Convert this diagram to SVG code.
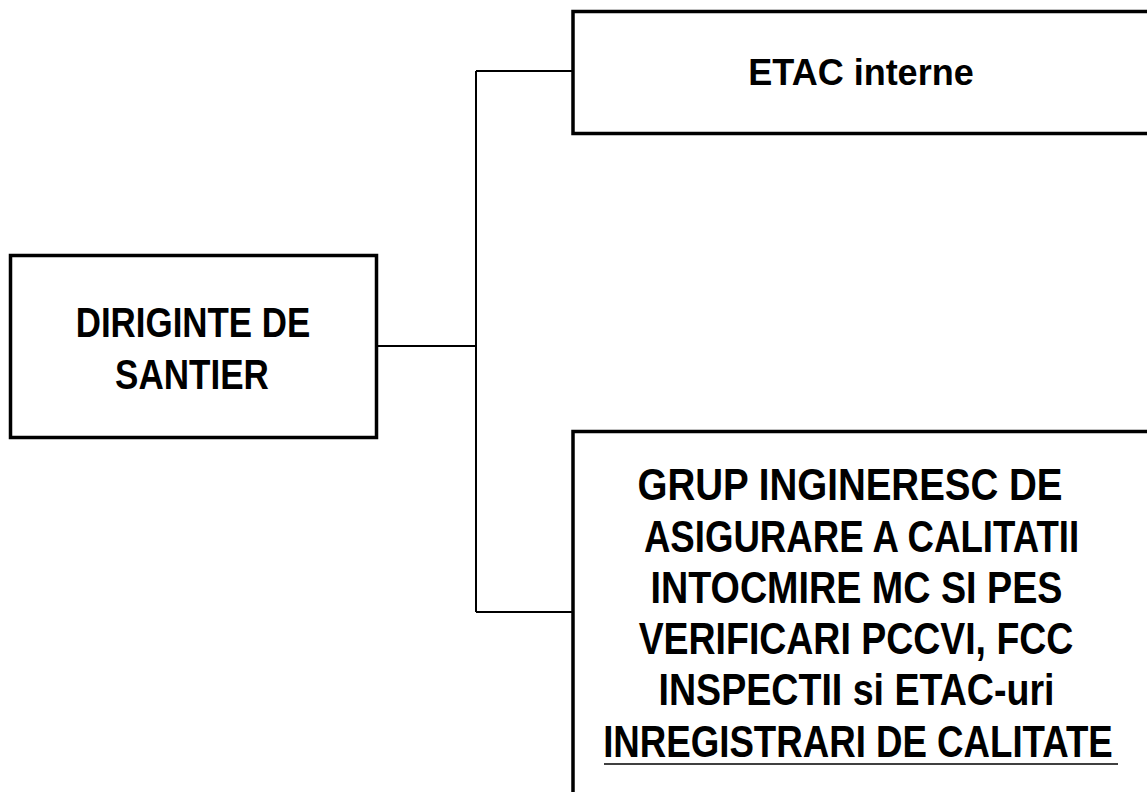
<svg xmlns="http://www.w3.org/2000/svg" width="1147" height="792" viewBox="0 0 1147 792">
<style>
  .box { fill: #ffffff; stroke: #000000; stroke-width: 3.5; }
  .edge { fill: none; stroke: #000000; stroke-width: 3.5; }
  .conn { fill: none; stroke: #000000; stroke-width: 2; }
  .lbl { font-family: "Liberation Sans", Arial, sans-serif; font-weight: bold; fill: #000000; text-anchor: middle; }
</style>
<rect width="1147" height="792" fill="#ffffff"/>
<g id="connectors">
  <path class="conn" d="M377 346 H476"/>
  <path class="conn" d="M476 71 V612"/>
  <path class="conn" d="M476 71 H573"/>
  <path class="conn" d="M476 612 H573"/>
</g>
<g id="node-diriginte">
  <rect class="box" x="10.5" y="255.5" width="366" height="182"/>
  <text class="lbl" font-size="43" transform="translate(193 337) scale(0.812 1)">DIRIGINTE DE</text>
  <text class="lbl" font-size="43" transform="translate(192 389) scale(0.815 1)">SANTIER</text>
</g>
<g id="node-etac">
  <path class="edge" d="M1147 11.5 H573 V133.5 H1147"/>
  <text class="lbl" font-size="36" x="861" y="85">ETAC interne</text>
</g>
<g id="node-grup">
  <path class="edge" d="M1147 431.5 H573 V792"/>
  <text class="lbl" font-size="44" transform="translate(850 500) scale(0.875 1)">GRUP INGINERESC DE</text>
  <text class="lbl" font-size="44" transform="translate(861.5 552) scale(0.832 1)">ASIGURARE A CALITATII</text>
  <text class="lbl" font-size="44" transform="translate(856.5 603) scale(0.857 1)">INTOCMIRE MC SI PES</text>
  <text class="lbl" font-size="44" transform="translate(856 654) scale(0.851 1)">VERIFICARI PCCVI, FCC</text>
  <text class="lbl" font-size="44" transform="translate(856.5 705) scale(0.854 1)">INSPECTII si ETAC-uri</text>
  <text class="lbl" font-size="44" transform="translate(858 757) scale(0.833 1)">INREGISTRARI DE CALITATE</text>
  <line x1="604" y1="764" x2="1118" y2="764" stroke="#000000" stroke-width="1.5"/>
</g>
</svg>
